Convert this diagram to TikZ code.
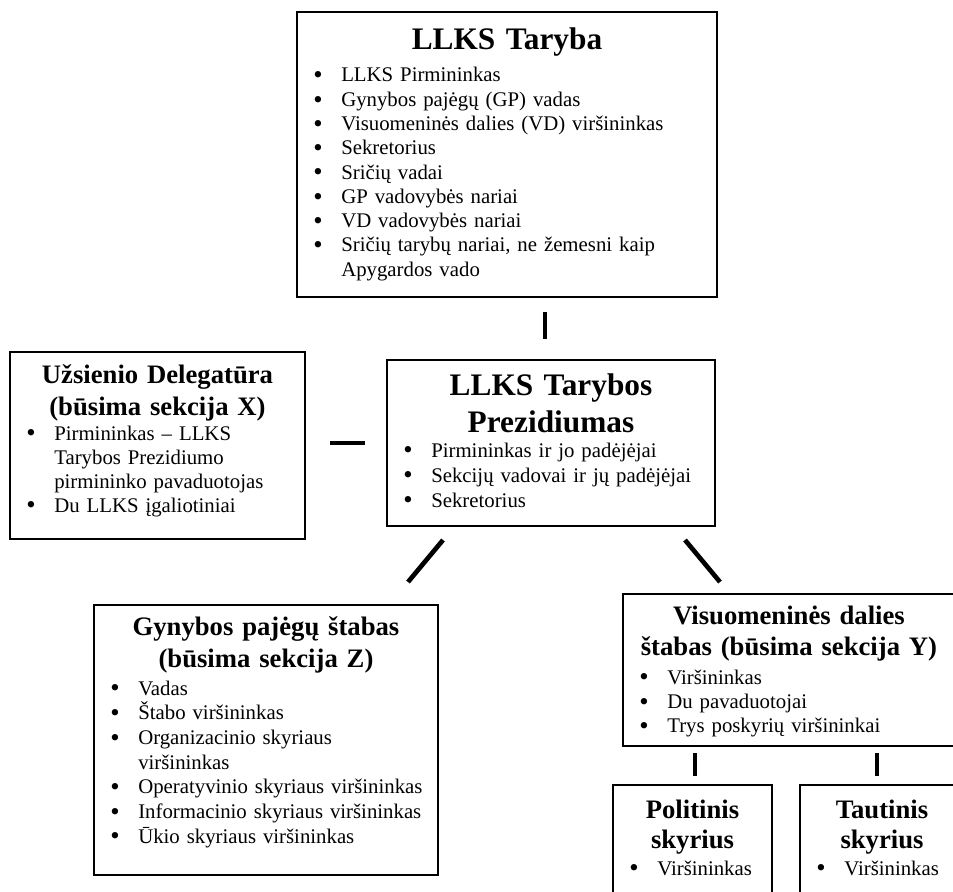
\documentclass[tikz,border=0pt]{standalone}
\usepackage{fontspec}
\setmainfont{Liberation Serif}
\usetikzlibrary{fit}
\newcommand{\bul}[1]{\hangindent=21pt\hangafter=1\makebox[21pt][l]{\raisebox{-1.4pt}{\fontsize{20}{20}\selectfont\textbullet}}#1\par}
\newcommand{\brk}{\hfil\break}
\begin{document}
\begin{tikzpicture}[x=0.75pt,y=-0.75pt,
  box/.style={draw, line width=1.8pt, inner sep=0pt},
  conn/.style={line width=3.5pt},
  ttl/.style={anchor=base, inner sep=0pt, align=center, text width=330pt, font=\bfseries\fontsize{20}{24}\selectfont},
  lst/.style={anchor=base west, inner sep=0pt, align=left},
]
\useasboundingbox (0,0) rectangle (953,892);
\fill[white] (0,0) rectangle (953,892);
\clip (0,0) rectangle (953,892);

% LLKS Taryba
\node[box, fit={(297,12) (717,297)}] (taryba) {};
\node[ttl, font=\bfseries\fontsize{23.5}{28}\selectfont] (tarybaT) at (507,50) {LLKS Taryba};
\node[lst, text width=295pt, font=\fontsize{15.6}{18.2}\selectfont] (tarybaL) at (313,82) {%
\bul{LLKS Pirmininkas}%
\bul{Gynybos pajėgų (GP) vadas}%
\bul{Visuomeninės dalies (VD) viršininkas}%
\bul{Sekretorius}%
\bul{Sričių vadai}%
\bul{GP vadovybės nariai}%
\bul{VD vadovybės nariai}%
\bul{Sričių tarybų nariai, ne žemesni kaip\brk Apygardos vado}};

% Uzsienio Delegatura
\node[box, fit={(10,352) (305,539)}] (uzs) {};
\node[ttl] (uzsT) at (157.5,383) {Užsienio Delegatūra\\(būsima sekcija X)};
\node[lst, text width=205pt, font=\fontsize{15.6}{18}\selectfont] (uzsL) at (26,440) {%
\bul{Pirmininkas – LLKS\brk Tarybos Prezidiumo\brk pirmininko pavaduotojas}%
\bul{Du LLKS įgaliotiniai}};

% Prezidiumas
\node[box, fit={(387,360) (715,526)}] (prez) {};
\node[ttl, font=\bfseries\fontsize{23.5}{27.75}\selectfont] (prezT) at (551,395) {LLKS Tarybos\\Prezidiumas};
\node[lst, text width=230pt, font=\fontsize{15.6}{18.75}\selectfont] (prezL) at (403,457) {%
\bul{Pirmininkas ir jo padėjėjai}%
\bul{Sekcijų vadovai ir jų padėjėjai}%
\bul{Sekretorius}};

% Gynybos pajegu stabas
\node[box, fit={(94,605) (438,875)}] (gyn) {};
\node[ttl] (gynT) at (266,635) {Gynybos pajėgų štabas\\(būsima sekcija Z)};
\node[lst, text width=245pt, font=\fontsize{15.6}{18.5}\selectfont] (gynL) at (110,695) {%
\bul{Vadas}%
\bul{Štabo viršininkas}%
\bul{Organizacinio skyriaus\brk viršininkas}%
\bul{Operatyvinio skyriaus viršininkas}%
\bul{Informacinio skyriaus viršininkas}%
\bul{Ūkio skyriaus viršininkas}};

% Visuomenines dalies stabas
\node[box, fit={(623,594) (955,746)}] (vis) {};
\node[ttl, font=\bfseries\fontsize{20}{23.25}\selectfont] (visT) at (789,624) {Visuomeninės dalies\\štabas (būsima sekcija Y)};
\node[lst, text width=230pt, font=\fontsize{15.6}{18.3}\selectfont] (visL) at (639,684) {%
\bul{Viršininkas}%
\bul{Du pavaduotojai}%
\bul{Trys poskyrių viršininkai}};

% Politinis skyrius
\node[box, fit={(613,785) (772,905)}] (pol) {};
\node[ttl, font=\bfseries\fontsize{20}{22.5}\selectfont] (polT) at (692.5,818) {Politinis\\skyrius};
\node[lst, text width=110pt, font=\fontsize{15.6}{18}\selectfont] (polL) at (629,875) {\bul{Viršininkas}};

% Tautinis skyrius
\node[box, fit={(800,785) (964,905)}] (taut) {};
\node[ttl, font=\bfseries\fontsize{20}{22.5}\selectfont] (tautT) at (882,818) {Tautinis\\skyrius};
\node[lst, text width=110pt, font=\fontsize{15.6}{18}\selectfont] (tautL) at (816,875) {\bul{Viršininkas}};

% connectors
\coordinate (c1a) at (545,312); \coordinate (c1b) at (545,339);
\coordinate (c2a) at (330,443); \coordinate (c2b) at (365,443);
\coordinate (c3a) at (443,540); \coordinate (c3b) at (408,582);
\coordinate (c4a) at (685,540); \coordinate (c4b) at (720,582);
\coordinate (c5a) at (695,753); \coordinate (c5b) at (695,776);
\coordinate (c6a) at (877,753); \coordinate (c6b) at (877,776);
\draw[conn] (c1a) -- (c1b);
\draw[conn] (c2a) -- (c2b);
\draw[conn] (c3a) -- (c3b);
\draw[conn] (c4a) -- (c4b);
\draw[conn] (c5a) -- (c5b);
\draw[conn] (c6a) -- (c6b);
\end{tikzpicture}
\end{document}
